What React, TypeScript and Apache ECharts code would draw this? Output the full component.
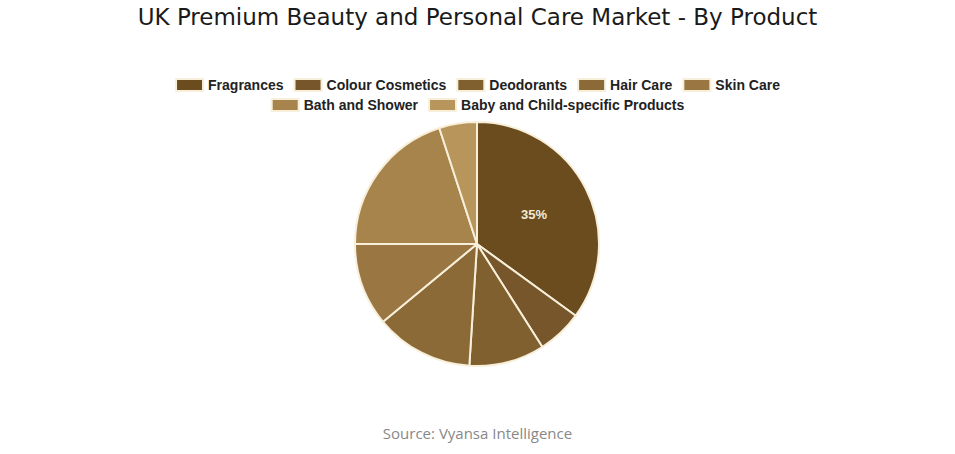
import React, { useEffect, useRef } from 'react';
import * as echarts from 'echarts';

const categories = [
  'Fragrances',
  'Colour Cosmetics',
  'Deodorants',
  'Hair Care',
  'Skin Care',
  'Bath and Shower',
  'Baby and Child-specific Products',
];
const shares = [35, 6, 10, 13, 11, 20, 5];
const colors = ['#6b4c1e', '#76562a', '#816030', '#8c6a37', '#9a7642', '#a8844d', '#b8955b'];
// only the largest slice carries a label in the source
const labelled = ['Fragrances'];
// legend rows, each centred on its own
const legendRow1 = categories.slice(0, 5);
const legendRow2 = categories.slice(5);

const legendBase = {
  left: 'center',
  itemWidth: 27,
  itemHeight: 12,
  itemGap: 10,
  icon: 'rect',
  textStyle: {
    fontFamily: 'Liberation Sans',
    fontWeight: 'bold',
    fontSize: 14,
    color: '#222',
  },
};

const App: React.FC = () => {
  const chartRef = useRef<HTMLDivElement>(null);

  useEffect(() => {
    if (!chartRef.current) return;
    const chart = echarts.init(chartRef.current, undefined, { renderer: 'svg' });

    const option = {
      animation: false,
      color: colors,
      title: {
        text: 'UK Premium Beauty and Personal Care Market - By Product',
        left: 'center',
        top: 0,
        textStyle: {
          fontFamily: 'DejaVu Sans',
          fontWeight: 'normal',
          fontSize: 23,
          color: '#1a1a1a',
        },
      },
      legend: [
        { ...legendBase, top: 73, data: legendRow1 },
        { ...legendBase, top: 93, data: legendRow2 },
      ],
      graphic: [
        {
          type: 'text',
          left: 'center',
          top: 425,
          style: {
            text: 'Source: Vyansa Intelligence',
            fontFamily: 'Open Sans',
            fontSize: 15,
            fill: '#888',
          },
        },
      ],
      series: [
        {
          type: 'pie',
          center: [477, 244],
          radius: 122,
          startAngle: 90,
          clockwise: true,
          itemStyle: {
            borderColor: '#f7efd9',
            borderWidth: 2,
          },
          label: {
            show: true,
            position: 'inside',
            fontFamily: 'Liberation Sans',
            fontWeight: 'bold',
            fontSize: 13,
            color: '#f3ead6',
            formatter: (p: any) => (labelled.includes(p.name) ? `${p.value}%` : ''),
          },
          labelLine: { show: false },
          emphasis: { disabled: true },
          data: categories.map((name, i) => ({ name, value: shares[i] })),
        },
      ],
    };

    chart.setOption(option);
    return () => chart.dispose();
  }, []);

  return (
    <div
      ref={chartRef}
      style={{ position: 'fixed', left: 0, top: 0, width: 955, height: 454, background: '#fff' }}
    />
  );
};

export default App;
